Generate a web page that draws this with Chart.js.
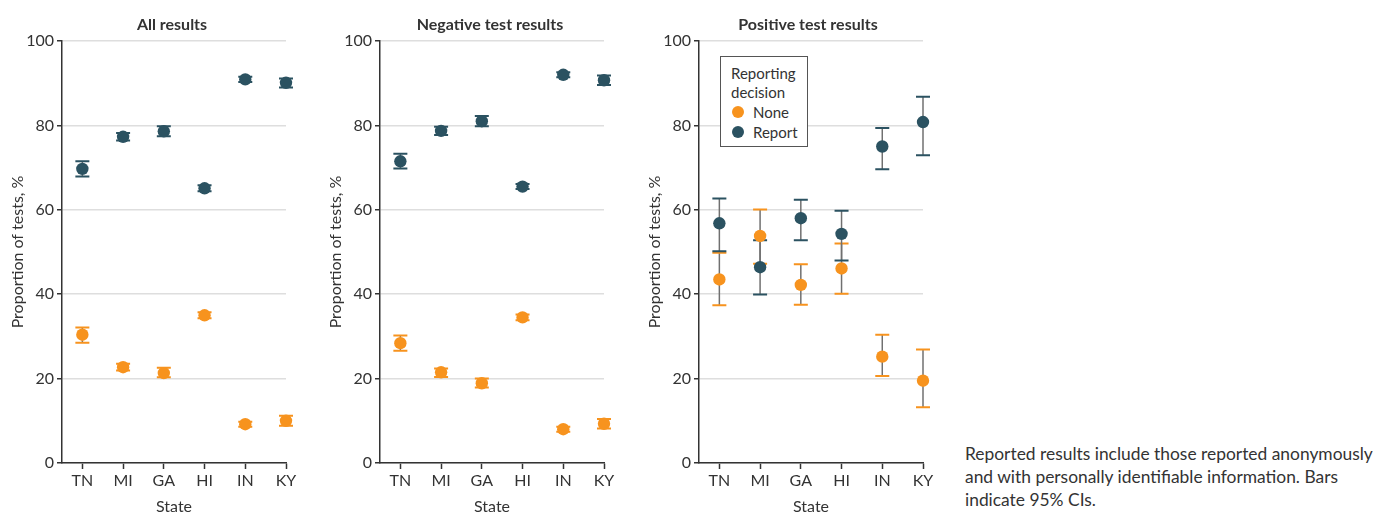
<!DOCTYPE html>
<html>
<head>
<meta charset="utf-8">
<script src="https://cdn.jsdelivr.net/npm/chart.js@4.4.0/dist/chart.umd.min.js"></script>
<style>
  body { margin: 0; background: #fff; width: 1391px; height: 513px; position: relative; overflow: hidden; font-family: Lato, sans-serif; color: #333; }
  .panel { position: absolute; top: 0; width: 300px; height: 513px; }
  .ttl { position: absolute; top: 14px; width: 240px; text-align: center; font-weight: bold; font-size: 16px; color: #333; }
  .legend { position: absolute; left: 720px; top: 56px; width: 88px; height: 91px; border: 1px solid #555; background: #fff; font-size: 15px; line-height: 19px; padding: 7px 0 0 10px; box-sizing: border-box; }
  .legend .it { position: relative; padding-left: 22px; line-height: 20px; }
  .legend .dot { position: absolute; left: 1px; top: 4px; width: 12px; height: 12px; border-radius: 50%; }
  .note { position: absolute; left: 965px; top: 442px; font-size: 17.4px; line-height: 23px; color: #333; }
</style>
</head>
<body>
<div class="panel" style="left:0"><canvas id="c1"></canvas></div>
<div class="panel" style="left:318px"><canvas id="c2"></canvas></div>
<div class="panel" style="left:637px"><canvas id="c3"></canvas></div>
<div class="ttl" style="left:52px">All results</div>
<div class="ttl" style="left:370px">Negative test results</div>
<div class="ttl" style="left:688px">Positive test results</div>
<div class="legend">
  <div>Reporting<br>decision</div>
  <div class="it"><span class="dot" style="background:#F7931E"></span>None</div>
  <div class="it"><span class="dot" style="background:#2B5261"></span>Report</div>
</div>
<div class="note">Reported results include those reported anonymously<br>and with personally identifiable information. Bars<br>indicate 95% CIs.</div>
<script>
// categorías y valores
const states = ['TN', 'MI', 'GA', 'HI', 'IN', 'KY'];
const yTicks = [0, 20, 40, 60, 80, 100];

// Todos los resultados
const allReport     = [69.7, 77.3, 78.6, 65.1, 90.9, 90.1];
const allReportLow  = [67.9, 76.4, 77.4, 64.4, 90.3, 89.0];
const allReportHigh = [71.5, 78.2, 79.8, 65.8, 91.5, 91.1];
const allNone       = [30.4, 22.7, 21.3, 35.0, 9.2, 10.0];
const allNoneLow    = [28.5, 21.9, 20.3, 34.3, 8.6, 8.8];
const allNoneHigh   = [32.1, 23.5, 22.6, 35.7, 9.8, 11.2];

// Resultados negativos
const negReport     = [71.5, 78.7, 81.0, 65.5, 92.0, 90.7];
const negReportLow  = [69.8, 77.7, 79.8, 64.9, 91.4, 89.6];
const negReportHigh = [73.3, 79.7, 82.2, 66.1, 92.6, 91.8];
const negNone       = [28.4, 21.5, 18.9, 34.5, 8.0, 9.3];
const negNoneLow    = [26.6, 20.4, 17.9, 33.8, 7.4, 8.2];
const negNoneHigh   = [30.2, 22.4, 20.0, 35.2, 8.6, 10.4];

// Resultados positivos
const posReport     = [56.8, 46.4, 58.0, 54.3, 75.0, 80.8];
const posReportLow  = [50.2, 39.9, 52.8, 48.0, 69.6, 72.9];
const posReportHigh = [62.7, 52.8, 62.4, 59.8, 79.4, 86.8];
const posNone       = [43.5, 53.8, 42.2, 46.1, 25.2, 19.5];
const posNoneLow    = [37.4, 47.2, 37.5, 40.1, 20.6, 13.2];
const posNoneHigh   = [49.8, 60.1, 47.1, 52.0, 30.4, 26.9];

const NARANJA = '#F7931E';
const OSCURO = '#2B5261';

Chart.defaults.font.family = 'Lato, sans-serif';
Chart.defaults.color = '#333';

// Barras de error (IC 95%) dibujadas con las escalas del gráfico
const errorBars = {
  id: 'errorBars',
  beforeDatasetsDraw(chart) {
    const ctx = chart.ctx;
    const xs = chart.scales.x, ys = chart.scales.y;
    chart.data.datasets.forEach(ds => {
      ds.data.forEach(p => {
        const x = xs.getPixelForValue(p.x);
        const yl = ys.getPixelForValue(p.lo);
        const yh = ys.getPixelForValue(p.hi);
        ctx.save();
        ctx.strokeStyle = '#707070';
        ctx.lineWidth = 1.5;
        ctx.beginPath(); ctx.moveTo(x, yl); ctx.lineTo(x, yh); ctx.stroke();
        ctx.strokeStyle = ds.backgroundColor;
        ctx.lineWidth = 2;
        ctx.beginPath();
        ctx.moveTo(x - 7, yl); ctx.lineTo(x + 7, yl);
        ctx.moveTo(x - 7, yh); ctx.lineTo(x + 7, yh);
        ctx.stroke();
        ctx.restore();
      });
    });
  }
};

function puntos(vals, lo, hi) {
  return vals.map((v, i) => ({x: i, y: v, lo: lo[i], hi: hi[i]}));
}

function crearPanel(id, none, noneLo, noneHi, rep, repLo, repHi) {
  const ctx = document.getElementById(id).getContext('2d');
  return new Chart(ctx, {
    type: 'scatter',
    data: {
      datasets: [
        {label: 'None', data: puntos(none, noneLo, noneHi), backgroundColor: NARANJA, borderColor: NARANJA, pointRadius: 6.2, borderWidth: 0, clip: false},
        {label: 'Report', data: puntos(rep, repLo, repHi), backgroundColor: OSCURO, borderColor: OSCURO, pointRadius: 6.2, borderWidth: 0, clip: false}
      ]
    },
    options: {
      responsive: false,
      animation: false,
      layout: {padding: {top: 41, right: 14, left: 0, bottom: 0}},
      plugins: {legend: {display: false}, tooltip: {enabled: false}},
      scales: {
        x: {
          type: 'linear', min: -0.5, max: 5,
          afterBuildTicks(s) { s.ticks = states.map((_, i) => ({value: i})); },
          afterFit(s) { s.height = 50; },
          ticks: {callback: v => states[v], font: {size: 16}, padding: 2, maxRotation: 0},
          grid: {drawOnChartArea: false, tickLength: 6, tickColor: '#333', tickWidth: 1.5},
          border: {color: '#333', width: 1.5},
          title: {display: true, text: 'State', font: {size: 16}, padding: {top: 0, bottom: -3}}
        },
        y: {
          min: 0, max: 100,
          afterBuildTicks(s) { s.ticks = yTicks.map(v => ({value: v})); },
          afterFit(s) { s.width = 62; },
          ticks: {font: {size: 16}, padding: 3},
          grid: {color: '#dedede', lineWidth: 1.5, tickLength: 5, tickColor: '#333', tickWidth: 1.5},
          border: {color: '#333', width: 1.5},
          title: {display: true, text: 'Proportion of tests, %', font: {size: 16}, padding: {top: 8, bottom: 0}}
        }
      }
    },
    plugins: [errorBars]
  });
}

['c1', 'c2', 'c3'].forEach(id => {
  const c = document.getElementById(id);
  c.width = 300; c.height = 513;
  c.style.width = '300px'; c.style.height = '513px';
});

crearPanel('c1', allNone, allNoneLow, allNoneHigh, allReport, allReportLow, allReportHigh);
crearPanel('c2', negNone, negNoneLow, negNoneHigh, negReport, negReportLow, negReportHigh);
crearPanel('c3', posNone, posNoneLow, posNoneHigh, posReport, posReportLow, posReportHigh);
</script>
</body>
</html>
